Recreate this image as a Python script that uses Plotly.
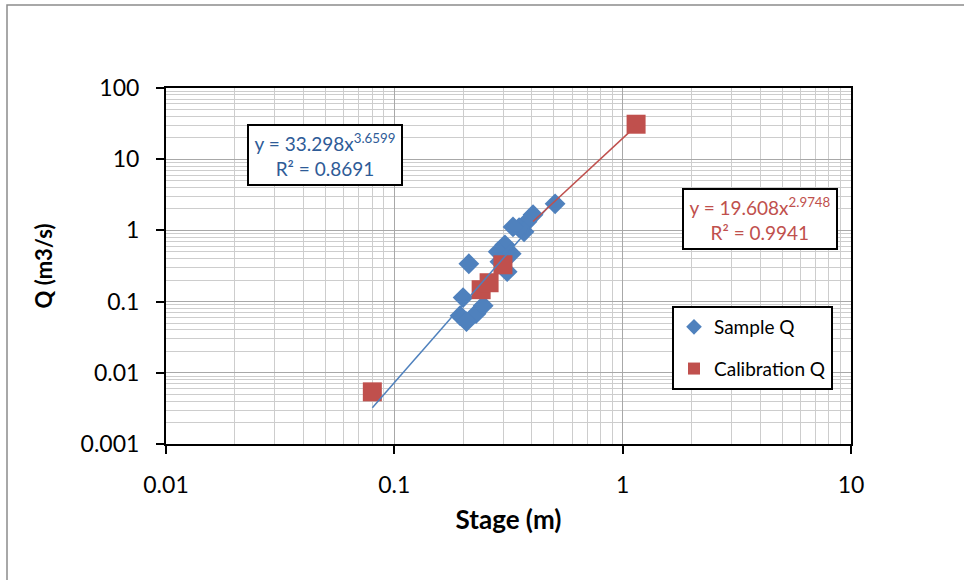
import numpy as np
import plotly.graph_objects as go

# ---- data ----
sample_stage = [0.506, 0.405, 0.381, 0.352, 0.370, 0.331, 0.305, 0.285, 0.325, 0.312,
                0.212, 0.200, 0.194, 0.228, 0.207, 0.245, 0.290]
sample_q = [2.36, 1.66, 1.32, 1.09, 0.956, 1.12, 0.628, 0.501, 0.470, 0.263,
            0.340, 0.114, 0.0635, 0.0677, 0.0523, 0.0876, 0.363]

calib_stage = [0.0801, 0.240, 0.260, 0.299, 1.145]
calib_q = [0.0054, 0.147, 0.184, 0.329, 31.0]

# trendline coefficients (from the equations on the chart)
sample_a, sample_b = 33.298, 3.6599
sample_r2 = 0.8691
sample_fit_range = [0.0801, 0.506]
calib_a, calib_b = 19.608, 2.9748
calib_r2 = 0.9941
calib_fit_range = [0.405, 1.145]

x_ticks = [0.01, 0.1, 1, 10]
x_ticktext = ["0.01", "0.1", "1", "10"]
y_ticks = [0.001, 0.01, 0.1, 1, 10, 100]
y_ticktext = ["0.001", "0.01", "0.1", "1", "10", "100"]

BLUE = "#4F81BD"
RED = "#C0504D"
FONT = "Lato"

fig = go.Figure()

fig.add_trace(go.Scatter(
    x=sample_stage, y=sample_q, mode="markers", name="Sample Q",
    legendgroup="a",
    marker=dict(symbol="diamond", size=16, color=BLUE, line=dict(width=0)),
))
fig.add_trace(go.Scatter(
    x=calib_stage, y=calib_q, mode="markers", name="Calibration Q",
    legendgroup="b",
    marker=dict(symbol="square", size=19, color=RED, line=dict(width=0)),
))

xs = np.geomspace(sample_fit_range[0], sample_fit_range[1], 50)
fig.add_trace(go.Scatter(
    x=xs, y=sample_a * xs ** sample_b, mode="lines", showlegend=False,
    line=dict(color=BLUE, width=1.5), hoverinfo="skip",
))
xc = np.geomspace(calib_fit_range[0], calib_fit_range[1], 50)
fig.add_trace(go.Scatter(
    x=xc, y=calib_a * xc ** calib_b, mode="lines", showlegend=False,
    line=dict(color=RED, width=1.5), hoverinfo="skip",
))

L, R, T, B = 166, 113, 88, 136
W, H = 964, 580
pw, ph = W - L - R, H - T - B


def px_to_paper(px, py):
    return (px - L) / pw, (H - B - py) / ph


axis_common = dict(
    showline=True, linecolor="black", linewidth=2, mirror=True,
    ticks="outside", ticklen=8, tickwidth=1.5, tickcolor="black",
    showgrid=True, gridcolor="#A8A8A8", gridwidth=1,
    zeroline=False,
    tickfont=dict(family=FONT, size=23, color="black"),
    minor=dict(showgrid=True, gridcolor="#CDCDCD", gridwidth=1, dtick="D1", ticks=""),
)

fig.update_xaxes(
    type="log", range=[-2, 1], tickvals=x_ticks, ticktext=x_ticktext,
    title=dict(text="<b>Stage (m)</b>", font=dict(family=FONT, size=26, color="black"),
               standoff=14),
    ticklabelstandoff=11,
    **axis_common,
)
fig.update_yaxes(
    type="log", range=[-3, 2], tickvals=y_ticks, ticktext=y_ticktext,
    title=dict(text="<b>Q (m3/s)</b>", font=dict(family=FONT, size=22, color="black"),
               standoff=22),
    ticklabelstandoff=12,
    **axis_common,
)

bx, by = px_to_paper(324.5, 155)
rx, ry = px_to_paper(759.5, 218.5)
annotations = [
    dict(xref="paper", yref="paper", x=bx, y=by, xanchor="center", yanchor="middle",
         text=f"y = {sample_a}x<sup>{sample_b}</sup><br>R² = {sample_r2}",
         showarrow=False, font=dict(family=FONT, size=19, color="#2E5B97"),
         bgcolor="white", bordercolor="black", borderwidth=2, borderpad=2,
         width=148, height=54, align="center"),
    dict(xref="paper", yref="paper", x=rx, y=ry, xanchor="center", yanchor="middle",
         text=f"y = {calib_a}x<sup>{calib_b}</sup><br>R² = {calib_r2}",
         showarrow=False, font=dict(family=FONT, size=19, color=RED),
         bgcolor="white", bordercolor="black", borderwidth=2, borderpad=2,
         width=148, height=54, align="center"),
]

x0, y1 = px_to_paper(7, 5)
x1, y0 = px_to_paper(990, 600)
shapes = [dict(type="rect", xref="paper", yref="paper", x0=x0, y0=y0, x1=x1, y1=y1,
               line=dict(color="#8C8C8C", width=1.5), layer="below")]

lx, ly = px_to_paper(672, 306)
fig.update_layout(
    width=W, height=H,
    margin=dict(l=L, r=R, t=T, b=B, pad=0),
    paper_bgcolor="white", plot_bgcolor="white",
    font=dict(family=FONT, color="black"),
    annotations=annotations, shapes=shapes,
    legend=dict(x=lx, y=ly, xanchor="left", yanchor="top",
                bgcolor="white", bordercolor="black", borderwidth=2,
                font=dict(family=FONT, size=19, color="black"),
                tracegroupgap=14, itemsizing="constant", itemwidth=30),
    showlegend=True,
)

fig.write_html("out.html",
               config={"displayModeBar": False},
               post_script="document.body.style.margin='0px';document.body.style.overflow='hidden';")
